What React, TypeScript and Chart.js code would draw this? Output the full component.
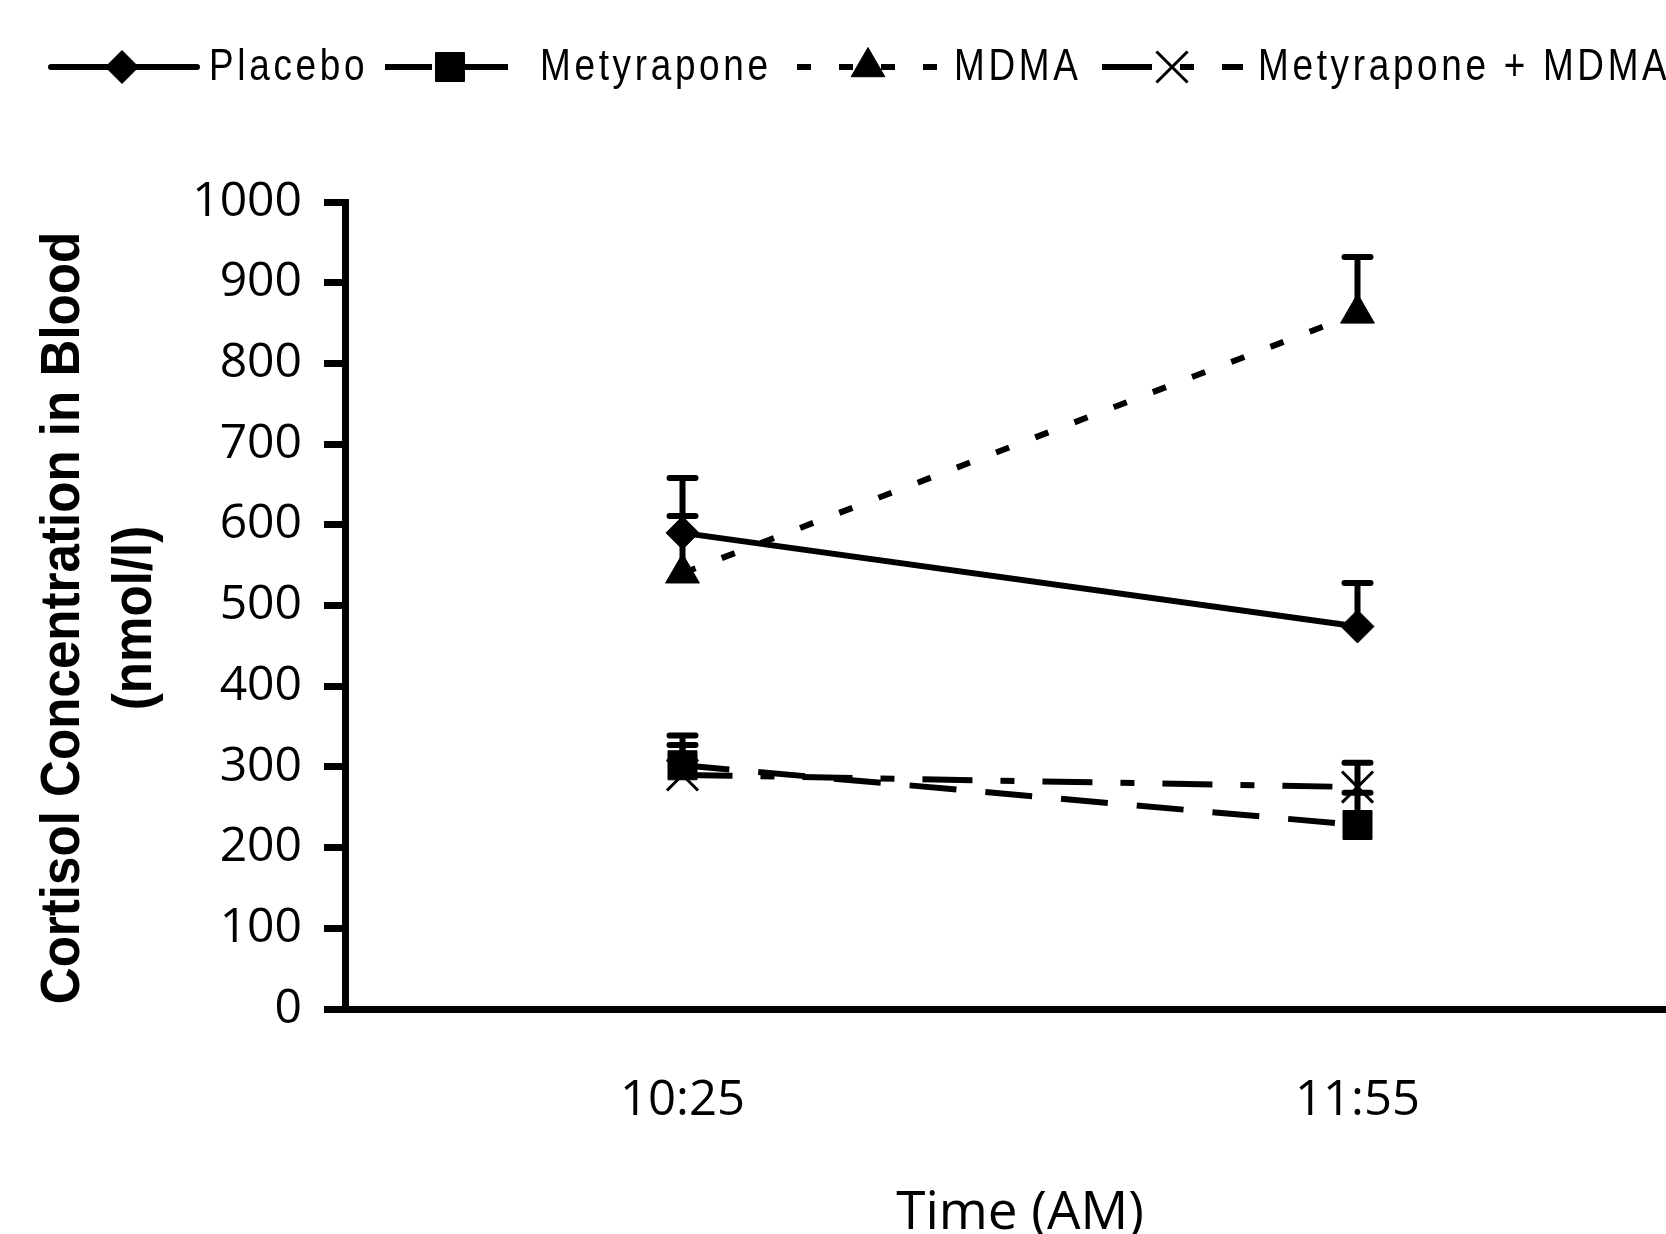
import React, { useEffect, useRef } from 'react';
import { Chart, registerables } from 'chart.js';

Chart.register(...registerables);

// ---- data ----
const timeLabels = ['10:25', '11:55'];
const seriesNames = ['Placebo', 'Metyrapone', 'MDMA', 'Metyrapone + MDMA'];
const placebo = [590, 474];
const placeboErr = [68, 54];
const metyrapone = [302, 228];
const metyraponeErr = [37, 40];
const mdma = [540, 862];
const mdmaErr = [71, 70];
const combo = [290, 275];
const comboErr = [37, 30];
const yMin = 0;
const yMax = 1000;
const yStep = 100;
const yTitleLines = ['Cortisol Concentration in Blood', '(nmol/l)'];
const xTitle = 'Time (AM)';

const seriesValues = [placebo, metyrapone, mdma, combo];
const seriesErrors = [placeboErr, metyraponeErr, mdmaErr, comboErr];

// ---- styles ----
const seriesStyles = [
  { dash: [] as number[], cap: 'round', point: 'rectRot', radius: 16.5, pbw: 1 },
  { dash: [47, 29], cap: 'butt', point: 'rect', radius: 20.5, pbw: 1 },
  { dash: [14, 28], cap: 'butt', point: 'triangle', radius: 19.5, pbw: 1 },
  { dash: [50, 28, 14, 28], cap: 'butt', point: 'crossRot', radius: 22, pbw: 3 },
];
const legendLayout = [
  { x0: 51, x1: 197, mx: 122, tx: 209 },
  { x0: 385, x1: 508, mx: 450, tx: 540 },
  { x0: 797, x1: 937, mx: 868, tx: 954 },
  { x0: 1102, x1: 1243, mx: 1172, tx: 1258 },
];
const LINE_W = 6;

function drawMarker(ctx: CanvasRenderingContext2D, style: string, x: number, y: number, r: number, bw: number) {
  ctx.save();
  ctx.fillStyle = '#000';
  ctx.strokeStyle = '#000';
  ctx.lineWidth = bw;
  ctx.setLineDash([]);
  ctx.beginPath();
  if (style === 'rectRot') {
    ctx.moveTo(x, y - r);
    ctx.lineTo(x + r, y);
    ctx.lineTo(x, y + r);
    ctx.lineTo(x - r, y);
    ctx.closePath();
    ctx.fill();
    ctx.stroke();
  } else if (style === 'rect') {
    const s = r * Math.SQRT1_2;
    ctx.rect(x - s, y - s, 2 * s, 2 * s);
    ctx.fill();
    ctx.stroke();
  } else if (style === 'triangle') {
    let a = 0;
    ctx.moveTo(x + Math.sin(a) * r, y - Math.cos(a) * r);
    a += (2 * Math.PI) / 3;
    ctx.lineTo(x + Math.sin(a) * r, y - Math.cos(a) * r);
    a += (2 * Math.PI) / 3;
    ctx.lineTo(x + Math.sin(a) * r, y - Math.cos(a) * r);
    ctx.closePath();
    ctx.fill();
    ctx.stroke();
  } else if (style === 'crossRot') {
    const d = r * Math.SQRT1_2;
    ctx.moveTo(x - d, y - d);
    ctx.lineTo(x + d, y + d);
    ctx.moveTo(x - d, y + d);
    ctx.lineTo(x + d, y - d);
    ctx.stroke();
  }
  ctx.restore();
}

const errorBarPlugin = {
  id: 'errorBars',
  beforeDatasetsDraw(chart: any) {
    const ctx: CanvasRenderingContext2D = chart.ctx;
    const yScale = chart.scales.y;
    ctx.save();
    ctx.strokeStyle = '#000';
    ctx.lineWidth = LINE_W;
    ctx.lineCap = 'round';
    ctx.setLineDash([]);
    seriesValues.forEach((vals, i) => {
      const meta = chart.getDatasetMeta(i);
      vals.forEach((v, j) => {
        const el = meta.data[j];
        if (!el) return;
        const x = el.x;
        const y0 = yScale.getPixelForValue(v);
        const y1 = yScale.getPixelForValue(v + seriesErrors[i][j]);
        ctx.beginPath();
        ctx.moveTo(x, y0);
        ctx.lineTo(x, y1);
        ctx.moveTo(x - 13, y1);
        ctx.lineTo(x + 13, y1);
        ctx.stroke();
      });
    });
    ctx.restore();
  },
};

const legendAndTitlePlugin = {
  id: 'customLegend',
  afterDraw(chart: any) {
    const ctx: CanvasRenderingContext2D = chart.ctx;
    const ly = 67;
    seriesNames.forEach((name, i) => {
      const st = seriesStyles[i];
      const L = legendLayout[i];
      ctx.save();
      ctx.strokeStyle = '#000';
      ctx.lineWidth = LINE_W;
      ctx.lineCap = st.cap as CanvasLineCap;
      ctx.setLineDash(st.dash);
      ctx.beginPath();
      ctx.moveTo(L.x0, ly);
      ctx.lineTo(L.x1, ly);
      ctx.stroke();
      ctx.restore();
      drawMarker(ctx, st.point, L.mx, ly, st.radius, st.pbw);
      ctx.save();
      ctx.fillStyle = '#000';
      ctx.font = '45px "Liberation Sans", Arial, sans-serif';
      (ctx as any).letterSpacing = '4.5px';
      ctx.textAlign = 'left';
      ctx.textBaseline = 'alphabetic';
      ctx.translate(L.tx, 80);
      ctx.scale(0.82, 1);
      ctx.fillText(name, 0, 0);
      ctx.restore();
    });
    // y axis title
    ctx.save();
    ctx.fillStyle = '#000';
    ctx.font = 'bold 56px "Liberation Sans", Arial, sans-serif';
    ctx.textAlign = 'center';
    ctx.textBaseline = 'middle';
    const cy = 618;
    yTitleLines.forEach((line, k) => {
      ctx.save();
      ctx.translate(64 + k * 72, cy);
      ctx.rotate(-Math.PI / 2);
      ctx.scale(0.913, 1);
      ctx.fillText(line, 0, 0);
      ctx.restore();
    });
    ctx.restore();
  },
};

export default function App() {
  const canvasRef = useRef<HTMLCanvasElement | null>(null);

  useEffect(() => {
    const canvas = canvasRef.current;
    if (!canvas) return;
    const datasets = seriesNames.map((name, i) => {
      const st = seriesStyles[i];
      return {
        label: name,
        data: seriesValues[i],
        borderColor: '#000',
        backgroundColor: '#000',
        borderWidth: LINE_W,
        borderDash: st.dash,
        borderCapStyle: st.cap,
        pointStyle: st.point,
        pointRadius: st.radius,
        pointHoverRadius: st.radius,
        pointBackgroundColor: '#000',
        pointBorderColor: '#000',
        pointBorderWidth: st.pbw,
        fill: false,
        tension: 0,
      };
    });
    const chart = new Chart(canvas, {
      type: 'line',
      data: { labels: timeLabels, datasets: datasets as any },
      plugins: [errorBarPlugin, legendAndTitlePlugin],
      options: {
        responsive: false,
        animation: false,
        devicePixelRatio: 1,
        layout: { padding: { top: 202, right: 2, left: 0, bottom: 0 } },
        plugins: {
          legend: { display: false },
          tooltip: { enabled: false },
          title: { display: false },
        },
        scales: {
          x: {
            type: 'category',
            offset: true,
            afterFit: (scale: any) => {
              scale.height = 225;
            },
            grid: { display: false, drawTicks: false, tickLength: 0 },
            border: { display: true, width: 7, color: '#000' },
            ticks: {
              color: '#000',
              padding: 63,
              font: { family: '"Open Sans", "DejaVu Sans", sans-serif', size: 49 },
            },
            title: {
              display: true,
              text: xTitle,
              color: '#000',
              padding: { top: 0, bottom: -6 },
              font: { family: '"Open Sans", "DejaVu Sans", sans-serif', size: 53, lineHeight: 1.0 },
            },
          },
          y: {
            min: yMin,
            max: yMax,
            afterFit: (scale: any) => {
              scale.width = 345;
            },
            grid: {
              drawOnChartArea: false,
              drawTicks: true,
              tickLength: 21,
              tickWidth: 7,
              tickColor: '#000',
              color: '#000',
              lineWidth: 7,
            },
            border: { display: true, width: 7, color: '#000' },
            ticks: {
              stepSize: yStep,
              color: '#000',
              padding: 22,
              callback: (v: any) => String(v),
              font: { family: '"Open Sans", "DejaVu Sans", sans-serif', size: 48 },
            },
            title: { display: false },
          },
        },
      },
    });
    return () => chart.destroy();
  }, []);

  return (
    <div
      style={{
        position: 'fixed',
        left: 0,
        top: 0,
        width: 1666,
        height: 1234,
        overflow: 'hidden',
        background: '#fff',
      }}
    >
      <canvas
        ref={canvasRef}
        width={1720}
        height={1234}
        style={{ display: 'block', width: 1720, height: 1234 }}
      />
    </div>
  );
}
